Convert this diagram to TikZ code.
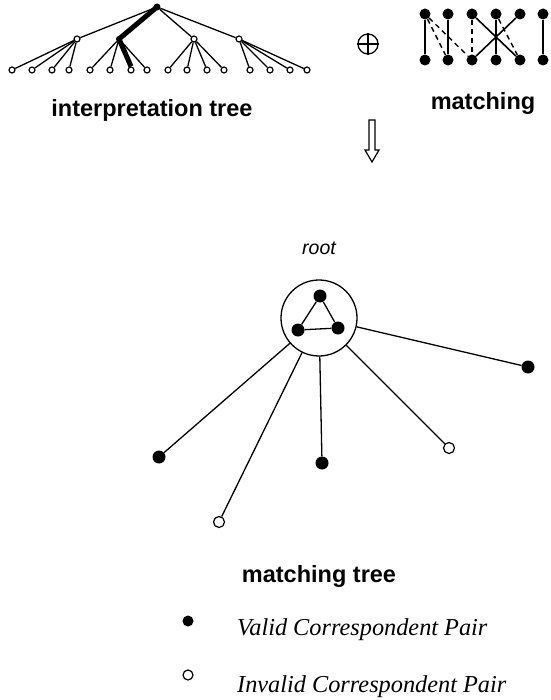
\documentclass[tikz,border=0pt]{standalone}
\usepackage{fontspec}
\setmainfont{Liberation Serif}
\setsansfont{Liberation Sans}
\begin{document}
\begin{tikzpicture}[x=1pt,y=-1pt,
  fdot/.style={circle,fill=black,inner sep=0pt,minimum size=#1},
  odot/.style={circle,draw,fill=white,inner sep=0pt,minimum size=#1,line width=1.2pt},
  tl/.style={line width=1.3pt},
  ml/.style={line width=1.6pt},
  mdash/.style={line width=1.4pt,dash pattern=on 5pt off 4pt},
  bl/.style={line width=1.3pt},
  lbl/.style={font=\sffamily\bfseries\fontsize{23.5}{26}\selectfont,inner sep=0pt},
  leg/.style={font=\itshape\fontsize{24.3}{27}\selectfont,inner sep=0pt,anchor=west}]
\useasboundingbox (0,0) rectangle (550,700);
% ---------- interpretation tree ----------
\node[fdot=7] (t0) at (157,7) {};
\node[odot=6] (t1) at (77,39) {};
\node[fdot=6] (t2) at (119,39) {};
\node[odot=6] (t3) at (194,39) {};
\node[odot=6] (t4) at (239,39) {};
\foreach \i/\x in {1/12,2/32,3/52,4/69,5/90,6/110,7/131,8/147,9/168,10/187,11/207,12/224,13/250,14/270,15/290,16/307}
  \node[odot=6] (l\i) at (\x,70) {};
\draw[tl] (t0) -- (t1);
\draw[tl] (t0) -- (t3);
\draw[tl] (t0) -- (t4);
\foreach \p/\a/\b/\c/\d in {1/1/2/3/4,2/5/6/7/8,3/9/10/11/12,4/13/14/15/16}{
  \draw[tl] (t\p) -- (l\a);
  \draw[tl] (t\p) -- (l\b);
  \draw[tl] (t\p) -- (l\c);
  \draw[tl] (t\p) -- (l\d);
}
\draw[line width=5pt,line join=round] (t0.center) -- (t2.center) -- (l7.north);
\node[lbl] (itl) at (152,110) {interpretation tree};
% ---------- oplus ----------
\node[circle,draw,line width=1.3pt,minimum size=20pt,inner sep=0pt] (op) at (368,44) {};
\draw[line width=1.3pt] (op.north) -- (op.south);
\draw[line width=1.3pt] (op.west) -- (op.east);
% ---------- matching ----------
\foreach \i/\x in {1/425,2/448,3/472,4/496,5/520,6/543}{
  \node[fdot=11] (m\i) at (\x,14) {};
  \node[fdot=11] (b\i) at (\x,60) {};
}
\draw[ml] (m1) -- (b1);
\draw[ml] (m2) -- (b2);
\draw[ml] (m4) -- (b4);
\draw[ml] (m6) -- (b6);
\draw[ml] (m3) -- (b5);
\draw[ml] (m5) -- (b3);
\draw[mdash] (m1) -- (b2);
\draw[mdash] (m1) -- (b3);
\draw[mdash] (m3) -- (b3);
\draw[mdash] (m4) -- (b5);
\node[lbl] (mtl) at (483,103) {matching};
% ---------- arrow ----------
\draw[line width=1.2pt,line join=miter] (369,120) -- (375,120) -- (375,150) -- (379,150) -- (372,162) -- (365,150) -- (369,150) -- cycle;
% ---------- matching tree ----------
\node[font=\sffamily\itshape\fontsize{19.5}{22}\selectfont,inner sep=0pt] (rt) at (319,248) {root};
\node[circle,draw,line width=1.3pt,minimum size=76pt,inner sep=0pt] (rc) at (319,318) {};
\node[fdot=13] (ta) at (320,296) {};
\node[fdot=13] (tb) at (298,330) {};
\node[fdot=13] (tc) at (338,328) {};
\draw[bl] (ta) -- (tb) -- (tc) -- (ta);
\node[fdot=13] (c1) at (528,367) {};
\node[fdot=13] (c2) at (159,457) {};
\node[fdot=13] (c3) at (322,463) {};
\node[odot=11] (c4) at (449,448) {};
\node[odot=11] (c5) at (219,522) {};
\foreach \c in {c1,c2,c3,c4,c5}
  \draw[bl] (rc) -- (\c);
\node[lbl] (mt) at (319,576) {matching tree};
% ---------- legend ----------
\node[fdot=11] (lg1) at (188,621) {};
\node[odot=10] (lg2) at (188,675) {};
\node[leg] (lt1) at (237,630) {Valid Correspondent Pair};
\node[leg] (lt2) at (237,687) {Invalid Correspondent Pair};
\end{tikzpicture}
\end{document}
